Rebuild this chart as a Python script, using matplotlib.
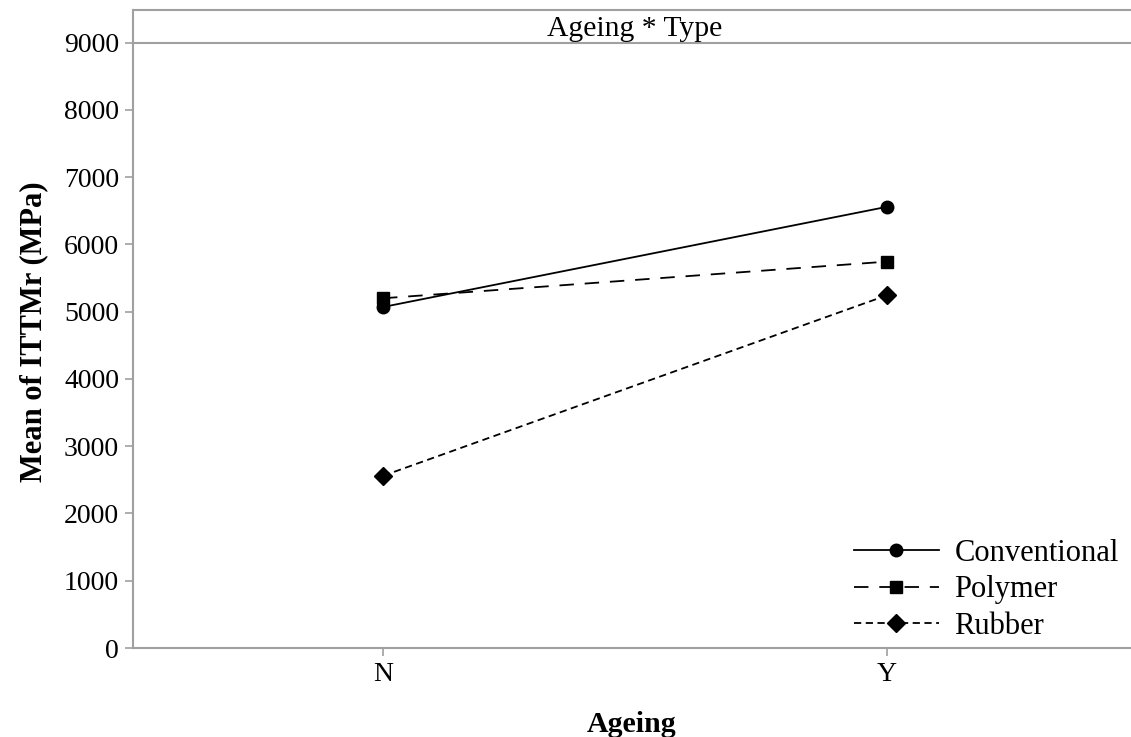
import matplotlib
matplotlib.use("Agg")
import matplotlib.pyplot as plt

categories = ["N", "Y"]
series_names = ["Conventional", "Polymer", "Rubber"]
conventional = [5070, 6560]
polymer = [5200, 5745]
rubber = [2560, 5245]
yticks = [0, 1000, 2000, 3000, 4000, 5000, 6000, 7000, 8000, 9000]

plt.rcParams['font.family'] = ['Liberation Serif', 'DejaVu Serif']
GREY = '#a0a0a0'

fig = plt.figure(figsize=(11.31, 7.37), dpi=100)
L = 133 / 1131
B = (737 - 648) / 737
T = 1 - 42.7 / 737
ax = fig.add_axes([L, B, 1 - L, T - B])

x = [1, 2]
styles = [
    dict(ls='-', marker='o', ms=9),
    dict(ls=(0, (8, 6)), marker='s', ms=8),
    dict(ls=(0, (4, 2.5)), marker='D', ms=9.5),
]
for vals, name, st in zip([conventional, polymer, rubber], series_names, styles):
    ax.plot(x, vals, color='black', lw=1.3, label=name, clip_on=False,
            markeredgecolor='black', markerfacecolor='black', **st)

ax.set_xlim(0.504, 2.484)
ax.set_ylim(0, 9000)
ax.set_xticks(x)
ax.set_xticklabels(categories)
ax.set_yticks(yticks)
ax.set_yticklabels([str(v) for v in yticks])
ax.tick_params(axis='both', direction='out', length=6, width=1.2, color=GREY,
               labelsize=20, pad=4)
ax.spines['right'].set_visible(False)
for s in ['left', 'bottom', 'top']:
    ax.spines[s].set_color(GREY)
    ax.spines[s].set_linewidth(1.5)

ax.set_xlabel('Ageing', fontsize=21.5, fontweight='bold', labelpad=17)
ax.set_ylabel('Mean of ITTMr (MPa)', fontsize=22, fontweight='bold', labelpad=11)
ax.yaxis.label.set_y(0.522)

# header strip
Ht = 1 - 10 / 737
hax = fig.add_axes([L, T, 1 - L, Ht - T])
hax.set_xticks([]); hax.set_yticks([])
hax.patch.set_alpha(0)
for s in ['right', 'bottom']:
    hax.spines[s].set_visible(False)
for s in ['left', 'top']:
    hax.spines[s].set_color(GREY)
    hax.spines[s].set_linewidth(1.5)
hax.text(0.503, 0.42, 'Ageing * Type', ha='center', va='center', fontsize=21.3,
         transform=hax.transAxes)

leg = ax.legend(loc='lower right', bbox_to_anchor=(1.0, -0.008), frameon=False,
                fontsize=22, handlelength=2.8, handletextpad=0.5,
                labelspacing=0.24, borderaxespad=0.0)

fig.savefig('out.png', dpi=100)
